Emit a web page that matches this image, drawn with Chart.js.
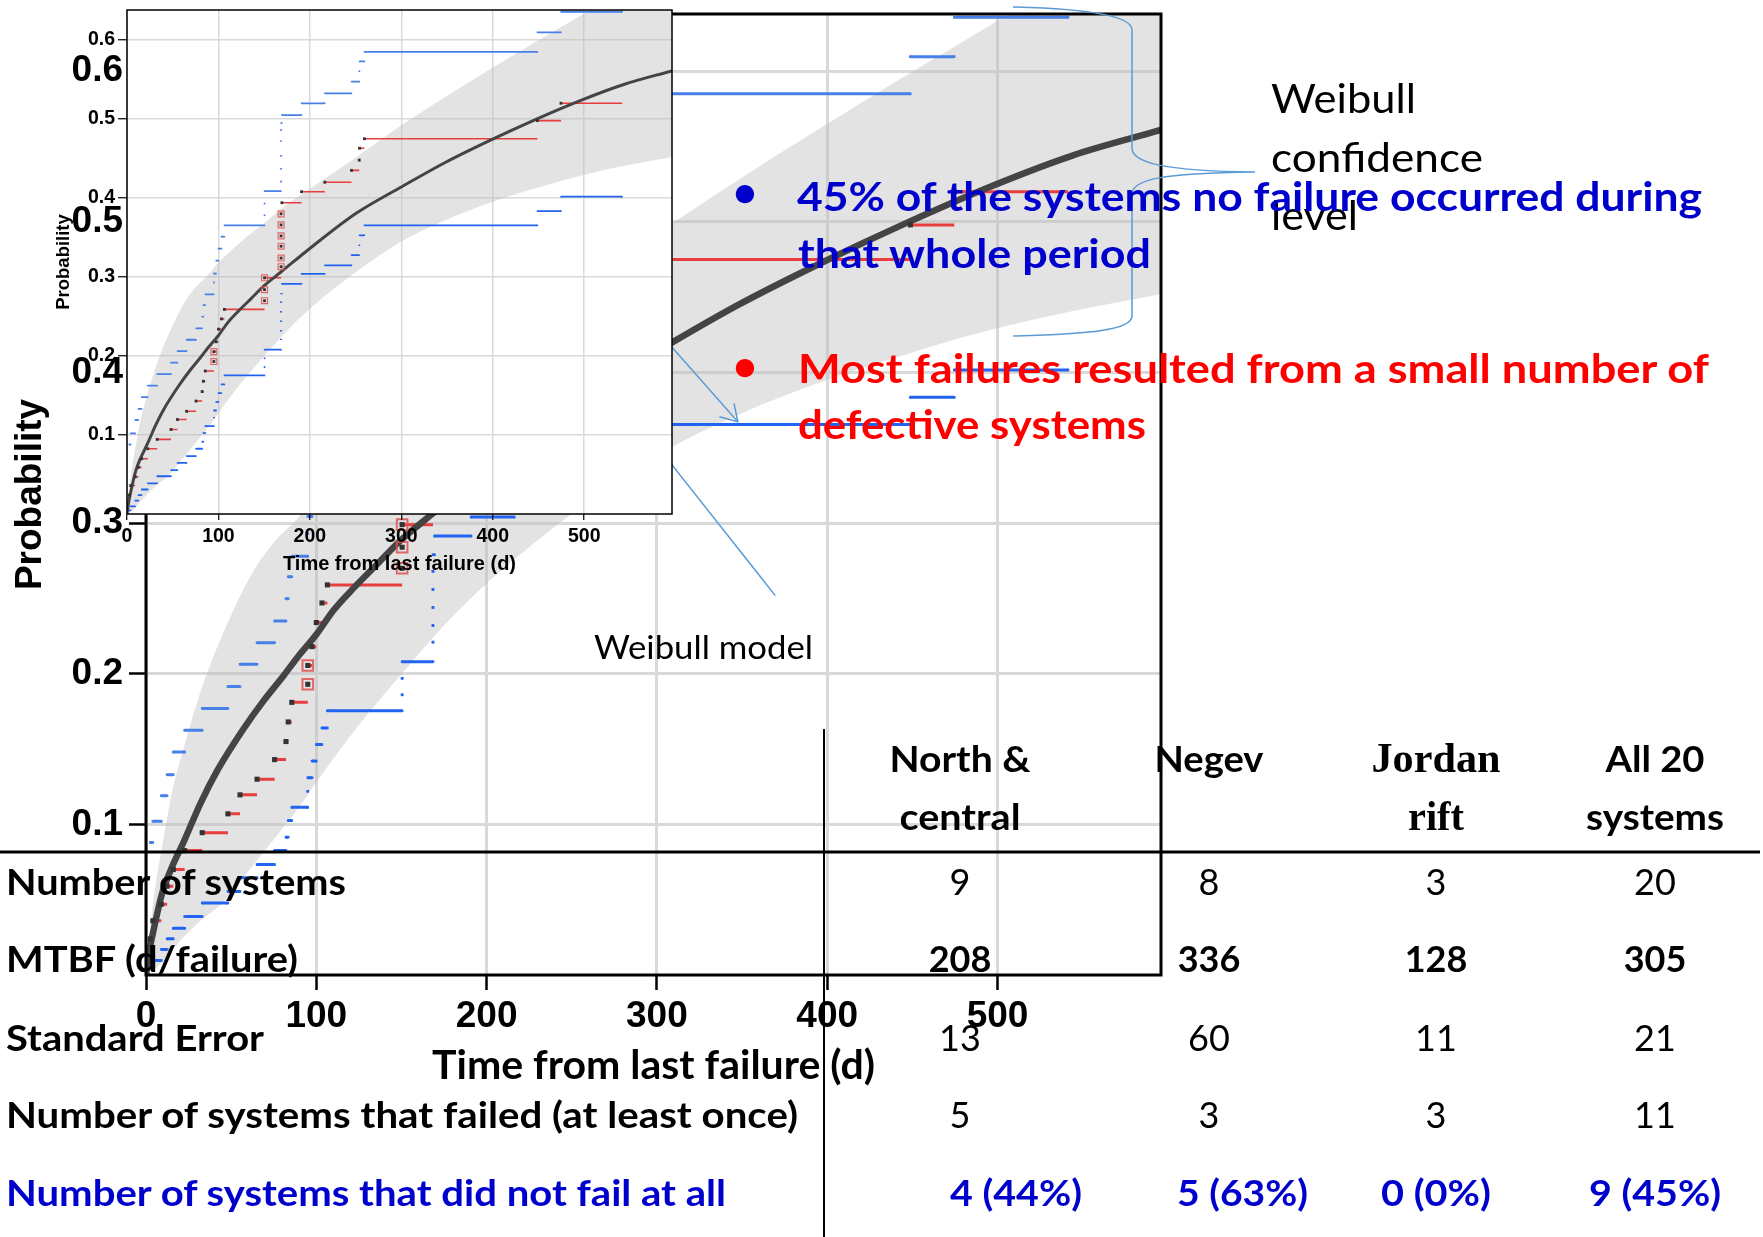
<!DOCTYPE html>
<html>
<head>
<meta charset="utf-8">
<script src="https://cdn.jsdelivr.net/npm/chart.js@4.4.1/dist/chart.umd.min.js"></script>
<style>
  html, body { margin: 0; padding: 0; background: #fff; }
  #stage { position: relative; width: 1763px; height: 1237px; overflow: hidden; background: #fff; }
  #stage canvas, #stage svg { position: absolute; left: 0; top: 0; }
</style>
</head>
<body>
<div id="stage">
  <canvas id="mainPlot" width="1200" height="1110"></canvas>
  <svg id="callouts" width="1763" height="1237" xmlns="http://www.w3.org/2000/svg">
    <g stroke="#5b9bd5" stroke-width="1.5" fill="none">
      <line x1="640" y1="424.4" x2="775.3" y2="595.6"/>
      <line x1="640" y1="311" x2="737.8" y2="421.7"/>
      <polyline points="719.4,416.7 737.8,421.7 734,403.3"/>
    </g>
  </svg>
  <canvas id="insetPlot" width="700" height="600"></canvas>
  <svg id="notes" width="1763" height="1237" xmlns="http://www.w3.org/2000/svg">
    <path d="M1013,7 C1090,9 1132,16 1132,30 L1132,148 C1132,162 1160,171 1255,172 C1160,173 1132,180 1132,194 L1132,316 C1132,330 1090,334 1013,336"
          stroke="#5b9bd5" stroke-width="1.5" fill="none"/>
    <line x1="0" y1="852" x2="1760" y2="852" stroke="#000" stroke-width="3"/>
    <line x1="824" y1="729" x2="824" y2="1237" stroke="#000" stroke-width="2"/>
  </svg>
</div>

<script>
// ---- axis ticks ----
const xTicks = [0, 100, 200, 300, 400, 500];
const yTicks = [0.1, 0.2, 0.3, 0.4, 0.5, 0.6];
const xMax = 596;
const yMax = 0.638;
const xTitle = 'Time from last failure (d)';
const yTitle = 'Probability';

// ---- Weibull fit (days, cumulative probability) ----
const fitDays = [0, 2, 4.5, 9.4, 15, 22, 32, 42, 57, 69, 81, 89, 100, 110, 122, 136, 150, 168, 203, 251, 300, 348, 397, 446, 495, 544, 596];
const fitProb = [0, 0.016, 0.030, 0.054, 0.071, 0.088, 0.114, 0.136, 0.163, 0.182, 0.199, 0.211, 0.226, 0.242, 0.257, 0.273, 0.289, 0.306, 0.339, 0.381, 0.414, 0.445, 0.473, 0.499, 0.523, 0.544, 0.561];

// ---- Weibull confidence band ----
const bandDays  = [0, 1.5, 5, 9.4, 12.4, 15, 22, 32, 45, 63, 75, 89, 100, 125, 154, 175, 203, 251, 300, 348, 397, 446, 495, 545, 596];
const bandUpper = [0, 0.02, 0.055, 0.085, 0.104, 0.12, 0.15, 0.188, 0.226, 0.268, 0.287, 0.303, 0.318, 0.345, 0.372, 0.392, 0.414, 0.452, 0.492, 0.528, 0.563, 0.597, 0.63, 0.665, 0.695];
const bandLower = [0, 0.002, 0.004, 0.008, 0.012, 0.016, 0.025, 0.036, 0.048, 0.073, 0.09, 0.11, 0.128, 0.166, 0.205, 0.232, 0.263, 0.307, 0.345, 0.372, 0.394, 0.412, 0.428, 0.441, 0.452];

// ---- nonparametric estimate at each failure, with its simultaneous limits ----
const eventDays = [2.5, 4.0, 9.0, 12.4, 16.0, 22.7, 33.0, 48.1, 55.2, 65.2, 75.5, 82.2, 83.5, 85.6, 95.0, 95.0, 97.5, 100.0, 103.3, 106.5,
                   150.4, 150.4, 150.4, 168.5, 168.5, 168.5, 168.5, 168.5, 168.5, 169.4, 190.9, 216.3, 245.5, 254.0, 254.3, 259.6, 448.8, 474.6];
const estimate  = [0.024, 0.036, 0.047, 0.059, 0.070, 0.0826, 0.0945, 0.107, 0.1196, 0.130, 0.143, 0.155, 0.168, 0.181, 0.193, 0.2055, 0.218, 0.234, 0.247, 0.259,
                   0.270, 0.284, 0.299, 0.313, 0.324, 0.339, 0.352, 0.366, 0.380, 0.394, 0.408, 0.420, 0.435, 0.448, 0.463, 0.475, 0.498, 0.520];
const upperCI   = [0.088, 0.102, 0.119, 0.133, 0.148, 0.1625, 0.177, 0.1915, 0.2063, 0.2206, 0.235, 0.2498, 0.2644, 0.278, 0.293, 0.3044, 0.3207, 0.336, 0.351, 0.3654,
                   0.378, 0.393, 0.4087, 0.421, 0.437, 0.4534, 0.472, 0.486, 0.495, 0.505, 0.5199, 0.5325, 0.5474, 0.5604, 0.5729, 0.585, 0.6097, 0.6358];
const lowerCI   = [0.0045, 0.0097, 0.017, 0.024, 0.031, 0.0388, 0.0478, 0.0555, 0.0646, 0.0733, 0.0826, 0.0915, 0.1025, 0.1113, 0.122, 0.131, 0.142, 0.153, 0.164, 0.1754,
                   0.186, 0.197, 0.208, 0.221, 0.232, 0.244, 0.256, 0.268, 0.279, 0.2914, 0.304, 0.3147, 0.3277, 0.340, 0.3528, 0.3654, 0.3835, 0.4017];
const lastDay = 541.4;

// ---- summary table ----
const regionHeads   = [['North &', 'central'], ['Negev', ''], ['Jordan', 'rift'], ['All 20', 'systems']];
const rowLabels     = ['Number of systems', 'MTBF (d/failure)', 'Standard Error',
                       'Number of systems that failed (at least once)', 'Number of systems that did not fail at all'];
const systemsCount  = ['9', '8', '3', '20'];
const mtbfDays      = ['208', '336', '128', '305'];
const stdError      = ['13', '60', '11', '21'];
const failedCount   = ['5', '3', '3', '11'];
const neverFailed   = ['4 (44%)', '5 (63%)', '0 (0%)', '9 (45%)'];

// ---------------------------------------------------------------------
const pts = (xs, ys) => xs.map((x, i) => ({ x, y: ys[i] }));

// horizontal step pieces: level i held from its day to the next failure day
function stepPieces(levels) {
  const out = [];
  eventDays.forEach((d, i) => {
    const end = i + 1 < eventDays.length ? eventDays[i + 1] : lastDay;
    out.push({ x: d, y: levels[i] }, { x: end, y: levels[i] }, { x: end, y: null });
  });
  return out;
}
// failures that share a day with another failure
const tied = eventDays.map(d => eventDays.filter(v => v === d).length > 1);

const framePlugin = {
  id: 'frame',
  beforeDraw(chart, args, opts) {
    const { ctx, chartArea: a } = chart;
    if (opts.fill) {
      ctx.save(); ctx.fillStyle = opts.fill;
      ctx.fillRect(a.left, a.top, a.right - a.left, a.bottom - a.top);
      ctx.restore();
    }
  },
  afterDatasetsDraw(chart, args, opts) {
    const { ctx, chartArea: a } = chart;
    ctx.save();
    ctx.strokeStyle = '#000';
    ctx.lineWidth = opts.width;
    ctx.strokeRect(a.left, a.top, a.right - a.left, a.bottom - a.top);
    ctx.restore();
  }
};

function buildPlot(id, s) {
  const datasets = [
    { data: pts(bandDays, bandUpper), borderWidth: 0, pointRadius: 0, fill: false,
      cubicInterpolationMode: 'monotone', order: 9 },
    { data: pts(bandDays, bandLower), borderWidth: 0, pointRadius: 0, fill: '-1',
      backgroundColor: 'rgba(188,188,188,0.42)', cubicInterpolationMode: 'monotone', order: 8 },
    { data: stepPieces(upperCI), borderColor: 'rgb(72,128,232)', borderWidth: s.blueW, borderCapStyle: 'butt',
      pointStyle: 'rect', pointRadius: s.blueR, pointBorderWidth: 0, pointBackgroundColor: 'rgb(72,128,232)',
      spanGaps: false, fill: false, order: 7 },
    { data: stepPieces(lowerCI), borderColor: 'rgb(34,100,240)', borderWidth: s.blueW, borderCapStyle: 'butt',
      pointStyle: 'rect', pointRadius: s.blueR, pointBorderWidth: 0, pointBackgroundColor: 'rgb(34,100,240)',
      spanGaps: false, fill: false, order: 6 },
    { data: stepPieces(estimate), borderColor: 'rgb(232,62,62)', borderWidth: s.redW, borderCapStyle: 'butt',
      pointRadius: 0, spanGaps: false, fill: false, order: 5 },
    { data: pts(fitDays, fitProb), borderColor: '#444', borderWidth: s.curveW, pointRadius: 0,
      cubicInterpolationMode: 'monotone', borderJoinStyle: 'round', fill: false, order: 4 },
    { data: pts(eventDays, estimate).filter((p, i) => tied[i]), showLine: false, pointStyle: 'rect',
      pointRadius: s.tieR, pointBorderWidth: s.tieW, pointBorderColor: 'rgba(226,80,80,0.85)',
      pointBackgroundColor: 'rgba(255,255,255,0)', order: 3 },
    { data: pts(eventDays, estimate), showLine: false, pointStyle: 'rect', pointRadius: s.blackR,
      pointBorderWidth: 0, pointBackgroundColor: '#333', order: 2 }
  ];
  datasets.forEach(d => { d.clip = 0; d.tension = 0; });

  return new Chart(document.getElementById(id), {
    type: 'line',
    data: { datasets },
    plugins: [framePlugin],
    options: {
      responsive: false, animation: false, events: [],
      layout: { padding: { left: 0, top: s.top, right: s.padRight, bottom: 0 } },
      plugins: { legend: { display: false }, tooltip: { enabled: false },
                 frame: { width: s.frameW, fill: '#fff' } },
      scales: {
        x: {
          type: 'linear', min: 0, max: xMax,
          afterBuildTicks: sc => { sc.ticks = xTicks.map(v => ({ value: v })); },
          afterFit: sc => { sc.height = s.axisH; sc.paddingLeft = 0; sc.paddingRight = 0; },
          border: { display: false },
          grid: { color: '#d9d9d9', lineWidth: s.gridW, tickColor: '#000', tickWidth: s.tickW, tickLength: s.xLen },
          ticks: { color: '#000', font: s.tickFont, padding: s.xPad, maxRotation: 0, autoSkip: false,
                   callback: v => String(v) },
          title: { display: true, text: xTitle, color: '#000', font: s.xTitleFont,
                   padding: { top: 0, bottom: s.xTitlePad } }
        },
        y: {
          type: 'linear', min: 0, max: yMax,
          afterBuildTicks: sc => { sc.ticks = yTicks.map(v => ({ value: v })); },
          afterFit: sc => { sc.width = s.left; sc.paddingTop = 0; sc.paddingBottom = 0; },
          border: { display: false },
          grid: { color: '#d9d9d9', lineWidth: s.gridW, tickColor: '#000', tickWidth: s.tickW, tickLength: s.yLen },
          ticks: { color: '#000', font: s.tickFont, padding: s.yPad, autoSkip: false,
                   callback: v => v.toFixed(1) },
          title: { display: true, text: yTitle, color: '#000', font: s.yTitleFont,
                   padding: { top: s.yTitlePad, bottom: 0 } }
        }
      }
    }
  });
}

// enlarged plot
buildPlot('mainPlot', {
  left: 146, top: 14, padRight: 39, axisH: 135,
  gridW: 3, tickW: 2.5, xLen: 15, yLen: 17, frameW: 3,
  tickFont: { family: 'Liberation Sans', weight: 'bold', size: 37 },
  xPad: 4.3, yPad: 6,
  xTitleFont: { family: 'Lato', weight: 'bold', size: 41 }, xTitlePad: 19.5,
  yTitleFont: { family: 'Liberation Sans', weight: 'bold', size: 37 }, yTitlePad: 8.8,
  curveW: 6.5, redW: 3, blueW: 3, blueR: 1.8, blackR: 3.6, tieR: 7.5, tieW: 2
});

// overview plot
buildPlot('insetPlot', {
  left: 127, top: 10, padRight: 28, axisH: 86,
  gridW: 1.5, tickW: 1.2, xLen: 6, yLen: 9, frameW: 1.5,
  tickFont: { family: 'Liberation Sans', weight: 'bold', size: 19.5 },
  xPad: 4.8, yPad: 3,
  xTitleFont: { family: 'Liberation Sans', weight: 'bold', size: 20 }, xTitlePad: 23.2,
  yTitleFont: { family: 'Liberation Sans', weight: 'bold', size: 18.5 }, yTitlePad: 52.5,
  curveW: 3, redW: 1.6, blueW: 1.8, blueR: 1.0, blackR: 2.0, tieR: 4.2, tieW: 1.2
});

// ---- annotations and table ----
const NS = 'http://www.w3.org/2000/svg';
const notes = document.getElementById('notes');
function addText(str, x, y, o) {
  const t = document.createElementNS(NS, 'text');
  t.setAttribute('x', x); t.setAttribute('y', y);
  t.setAttribute('font-family', o.family || 'Lato');
  t.setAttribute('font-size', o.size);
  t.setAttribute('font-weight', o.weight || 'normal');
  t.setAttribute('fill', o.color || '#000');
  if (o.anchor) t.setAttribute('text-anchor', o.anchor);
  if (o.width) { t.setAttribute('textLength', o.width); t.setAttribute('lengthAdjust', 'spacingAndGlyphs'); }
  t.textContent = str;
  notes.appendChild(t);
}
const BLUE = '#0000cc', RED = '#ff0000';

// callout labels
addText('Weibull', 1271, 113.3, { size: 41, width: 145 });
addText('confidence', 1271, 171.7, { size: 41, width: 212 });
addText('level', 1271, 230, { size: 41, width: 87 });
addText('Weibull model', 594, 658.7, { size: 33, width: 219 });

// bullet points
addText('\u2022', 745, 207, { size: 42, weight: 'bold', color: BLUE, anchor: 'middle' });
addText('45% of the systems no failure occurred during', 797, 210.7, { size: 41, weight: 'bold', color: BLUE, width: 905 });
addText('that whole period', 798, 268.3, { size: 41, weight: 'bold', color: BLUE, width: 353 });
addText('\u2022', 745, 381, { size: 42, weight: 'bold', color: RED, anchor: 'middle' });
addText('Most failures resulted from a small number of', 798, 382.7, { size: 41, weight: 'bold', color: RED, width: 911 });
addText('defective systems', 798, 439.3, { size: 41, weight: 'bold', color: RED, width: 348 });

// table
const colCenters = [960, 1209, 1436, 1655];
const headBase = [772, 830];
const headWidths = [[141, 121], [109, 0], [129, 56], [99, 138]];
regionHeads.forEach((pair, c) => {
  pair.forEach((txt, r) => {
    if (!txt) return;
    const serif = c === 2;
    addText(txt, colCenters[c], headBase[r], {
      size: serif ? 42 : 36, weight: 'bold', anchor: 'middle', width: headWidths[c][r],
      family: serif ? 'Liberation Serif' : 'Lato'
    });
  });
});

const rowBase = [895, 972.3, 1050.7, 1128, 1205.7];
const labelWidths = [340, 292, 258, 792, 720];
rowLabels.forEach((txt, r) => {
  addText(txt, 6, rowBase[r], { size: 36, weight: 'bold', width: labelWidths[r], color: r === 4 ? BLUE : '#000' });
});
[systemsCount, mtbfDays, stdError, failedCount].forEach((row, r) => {
  row.forEach((v, c) => addText(v, colCenters[c], rowBase[r], { size: 36, weight: r === 1 ? 'bold' : 'normal', anchor: 'middle' }));
});
const lastRowLeft = [950, 1177, 1381, 1589];
const lastRowWidth = [132, 131, 110, 132];
neverFailed.forEach((v, c) => addText(v, lastRowLeft[c], rowBase[4], { size: 36, weight: 'bold', color: BLUE, width: lastRowWidth[c] }));
</script>
</body>
</html>
